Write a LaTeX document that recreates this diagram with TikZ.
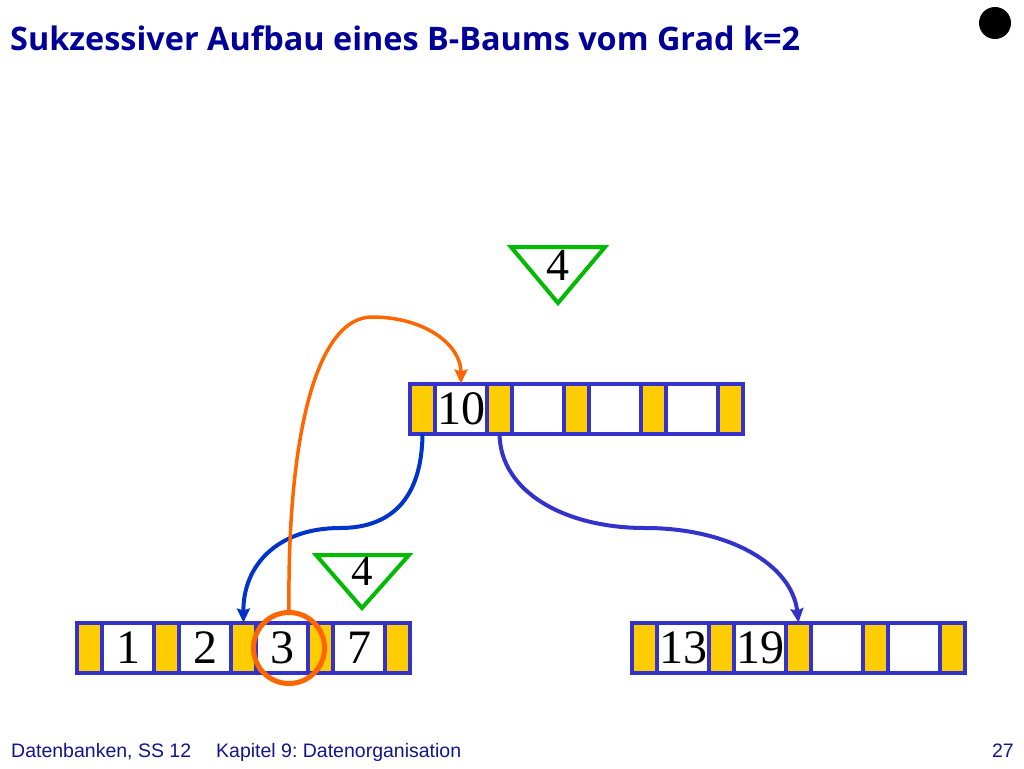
\documentclass[tikz,border=0pt]{standalone}
\usepackage{fontspec}
\usepackage{tikz}
\usetikzlibrary{positioning,arrows.meta}
\newfontfamily\titlefont{Open Sans}
\newfontfamily\footfont{Liberation Sans}
\newfontfamily\keyfont{Liberation Serif}
\frenchspacing
\definecolor{boxblue}{RGB}{51,51,204}
\definecolor{arrowblue}{RGB}{0,51,204}
\definecolor{ptryellow}{RGB}{255,204,0}
\definecolor{insgreen}{RGB}{0,187,0}
\definecolor{moveorange}{RGB}{255,102,0}
\definecolor{titleblue}{RGB}{0,0,153}
\definecolor{footblue}{RGB}{20,20,140}
\tikzset{
  ptr/.style={draw=boxblue,fill=ptryellow,line width=4pt,minimum width=25pt,minimum height=50pt,inner sep=0pt,outer sep=0pt},
  key/.style={draw=boxblue,fill=white,line width=4pt,minimum width=52pt,minimum height=50pt,inner sep=0pt,outer sep=0pt,font=\keyfont\fontsize{48}{48}\selectfont},
  tri/.style={draw=insgreen,line width=4pt,line join=miter},
  link/.style={line width=4pt,-{Stealth[length=14pt,width=13pt,inset=2pt]}},
  foot/.style={text=footblue,inner sep=0pt,font=\footfont\fontsize{19.5}{20}\selectfont},
}
\begin{document}
\begin{tikzpicture}[x=1pt,y=-1pt]
\useasboundingbox (0,0) rectangle (1024,768);
\node[anchor=base west,inner sep=0pt,text=titleblue,font=\titlefont\bfseries\fontsize{32.4}{33}\selectfont] (title) at (10,50) {Sukzessiver Aufbau eines B-Baums vom Grad k=2};
\fill (995,23) circle (16);
% root
\node[ptr] (t0) at (422.5,408.5) {};
\node[key,right=0pt of t0] (t1) {10};
\node[ptr,right=0pt of t1] (t2) {};
\node[key,right=0pt of t2] (t3) {};
\node[ptr,right=0pt of t3] (t4) {};
\node[key,right=0pt of t4] (t5) {};
\node[ptr,right=0pt of t5] (t6) {};
\node[key,right=0pt of t6] (t7) {};
\node[ptr,right=0pt of t7] (t8) {};
% left leaf
\node[ptr] (b0) at (89.5,647.5) {};
\node[key,right=0pt of b0] (b1) {1};
\node[ptr,right=0pt of b1] (b2) {};
\node[key,right=0pt of b2] (b3) {2};
\node[ptr,right=0pt of b3] (b4) {};
\node[key,right=0pt of b4] (b5) {3};
\node[ptr,right=0pt of b5] (b6) {};
\node[key,right=0pt of b6] (b7) {7};
\node[ptr,right=0pt of b7] (b8) {};
% right leaf
\node[ptr] (c0) at (644.5,647.5) {};
\node[key,right=0pt of c0] (c1) {13};
\node[ptr,right=0pt of c1] (c2) {};
\node[key,right=0pt of c2] (c3) {19};
\node[ptr,right=0pt of c3] (c4) {};
\node[key,right=0pt of c4] (c5) {};
\node[ptr,right=0pt of c5] (c6) {};
\node[key,right=0pt of c6] (c7) {};
\node[ptr,right=0pt of c7] (c8) {};
% new key 4
\draw[tri] (511,247) -- (605,247) -- (558,303) -- cycle;
\node[anchor=base,font=\keyfont\fontsize{46}{46}\selectfont] (newtop) at (558,280) {4};
\draw[tri] (316,555) -- (409,555) -- (362,608) -- cycle;
\node[anchor=base,font=\keyfont\fontsize{43}{43}\selectfont] (newleaf) at (362,585) {4};
\node[draw=moveorange,circle,line width=5pt,minimum size=71pt,inner sep=0pt,outer sep=0pt] (ring) at (289,648) {};
% pointers
\draw[link,arrowblue] (t0.south) .. controls (422,500) and (390,528) .. (340,528) .. controls (278,528) and (243,565) .. (b4.north);
\draw[link,boxblue] (t2.south) .. controls (500,492) and (565,528) .. (645,528) .. controls (730,528) and (792,565) .. (c4.north);
\draw[link,moveorange,line width=3.5pt] (ring.north) .. controls (287,430) and (318,317) .. (372,317) .. controls (425,317) and (461,345) .. (t1.north);
% footer
\node[foot,anchor=base west] (lecture) at (11,757) {Datenbanken, SS 12};
\node[foot,anchor=base west] (chapter) at (216,757) {Kapitel 9: Datenorganisation};
\node[foot,anchor=base east] (page) at (1014,757) {27};
\end{tikzpicture}
\end{document}
